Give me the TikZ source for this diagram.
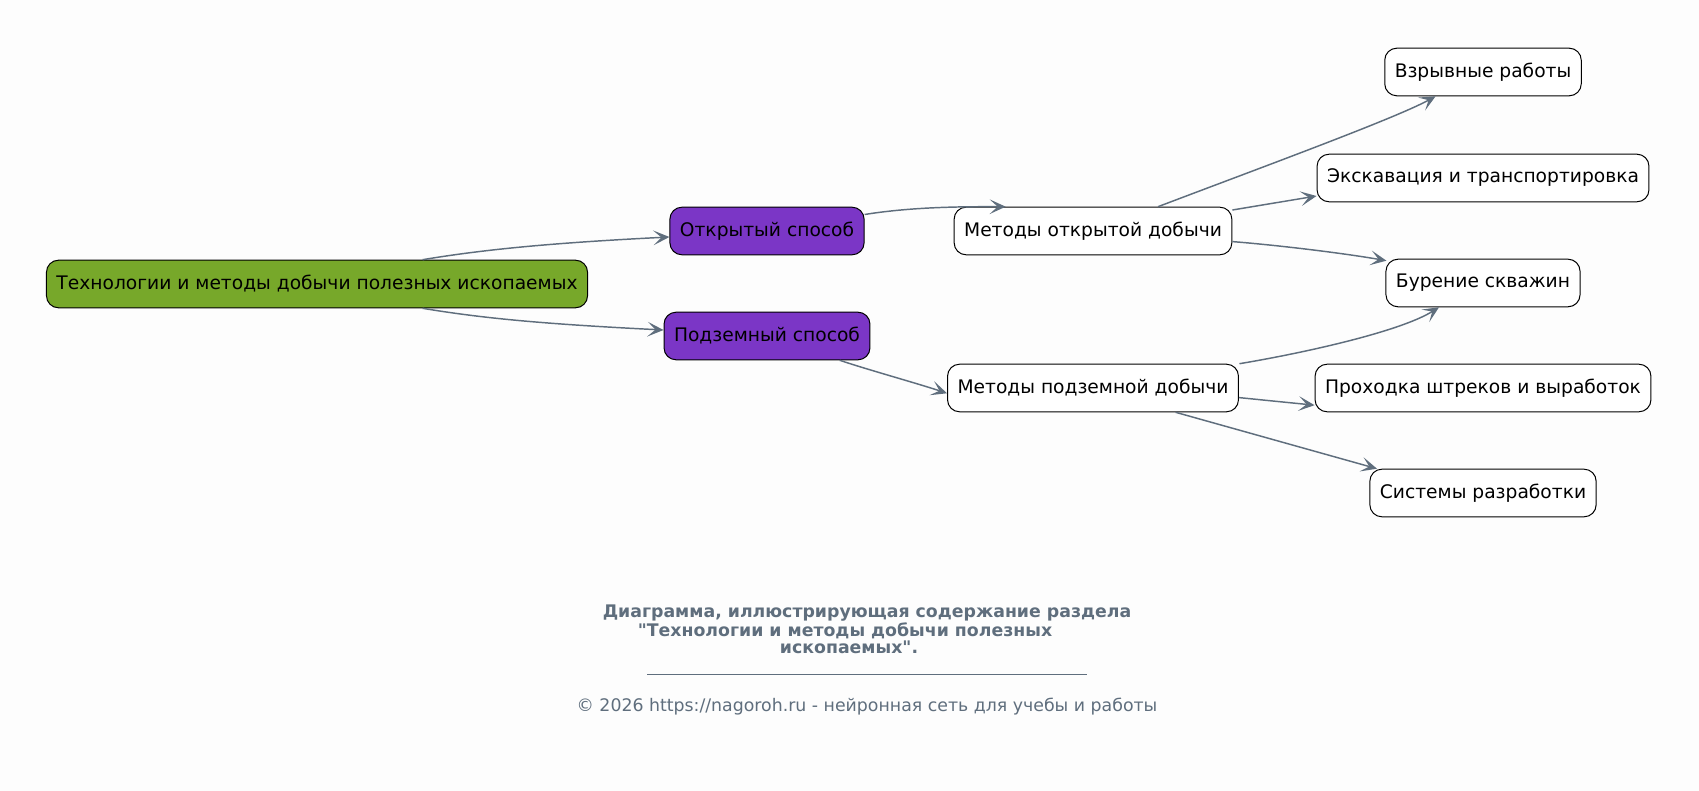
\documentclass[tikz,border=0pt]{standalone}
\usepackage{fontspec}
\setmainfont{DejaVu Sans}[Ligatures=TeXOff]
\usetikzlibrary{arrows.meta,calc,positioning}
\definecolor{rootgreen}{HTML}{77A82A}
\definecolor{waypurple}{HTML}{7B36C6}
\definecolor{linkgray}{HTML}{5F6E7D}
\definecolor{bgpaper}{HTML}{FDFDFD}

\begin{document}
\begin{tikzpicture}[x=0.75pt,y=-0.75pt,
				box/.style={rectangle,rounded corners=9pt,draw=black,line width=0.75pt,minimum height=35.7pt,inner xsep=7.5pt,inner ysep=0pt,font=\fontsize{14}{17}\selectfont},
				rootnode/.style={box,fill=rootgreen},
				pnode/.style={box,fill=waypurple},
				mnode/.style={box,fill=white},
				leaf/.style={box,fill=white},
				link/.style={draw=linkgray,line width=1.1pt,-{Stealth[length=12pt,width=11pt,inset=6pt]}},
				caption/.style={text=linkgray,align=center}
				]
				\fill[bgpaper] (0,0) rectangle (1699,791);
				\useasboundingbox (0,0) rectangle (1699,791);
				% nodes
				\node (z) [rootnode] at (317,284) {Технологии и методы добычи полезных ископаемых};
				\node (a) [pnode] at (767,231) {Открытый способ};
				\node (b) [pnode] at (767,336) {Подземный способ};
				\node (c) [mnode] at (1093,231) {Методы открытой добычи};
				\node (d) [mnode] at (1093,388) {Методы подземной добычи};
				\node (e) [leaf] at (1483,72) {Взрывные работы};
				\node (f) [leaf] at (1483,178) {Экскавация и транспортировка};
				\node (g) [leaf] at (1483,283) {Бурение скважин};
				\node (h) [leaf] at (1483,388) {Проходка штреков и выработок};
				\node (k) [leaf] at (1483,493) {Системы разработки};
				% connectors
				\draw[link] ($(z.north)+(105.6,0)$) .. controls +(60,-10) and +(-120,6) .. ($(a.west)+(0,6)$);
				\draw[link] ($(z.south)+(105.6,0)$) .. controls +(60,10) and +(-120,-6) .. ($(b.west)+(0,-6)$);
				\draw[link] ($(a.east)+(0,-16.5)$) .. controls +(50,-8) and +(-40,0) .. ($(c.north west)+(52,0)$);
				\draw[link] ($(b.south)+(72.7,0)$) .. controls +(30,10) and +(-30,-10) .. ($(d.west)+(0,5.3)$);
				\draw[link] ($(c.north)+(65,0)$) .. controls +(100,-38) and +(-40,22) .. ($(e.south)+(-47.4,0)$);
				\draw[link] ($(c.east)+(0,-21)$) -- ($(f.west)+(0,18)$);
				\draw[link] ($(c.east)+(0,10.6)$) .. controls +(50,4) and +(-40,-7) .. ($(g.north west)+(1,2)$);
				\draw[link] ($(d.north east)+(0.5,0)$) .. controls +(60,-10) and +(-40,25) .. ($(g.south)+(-44,0)$);
				\draw[link] ($(d.east)+(0,9.6)$) -- ($(h.west)+(0,17.2)$);
				\draw[link] ($(d.south)+(82.6,0)$) -- ($(k.north)+(-106,0)$);
				% caption
				\node (t) [caption,font=\bfseries\fontsize{13}{13.1}\selectfont] at (867,629.5)
					{Диаграмма, иллюстрирующая содержание раздела\\"Технологии и методы добычи полезных\rule{33pt}{0pt}\\ископаемых".\rule{27pt}{0pt}};
				\node (r) [caption] at (867,674) {\rule{330pt}{0.75pt}};
				\node (s) [caption,font=\fontsize{13}{14}\selectfont] at (867,706.5)
					{© 2026 https://nagoroh.ru - нейронная сеть для учебы и работы};
\end{tikzpicture}
\end{document}
